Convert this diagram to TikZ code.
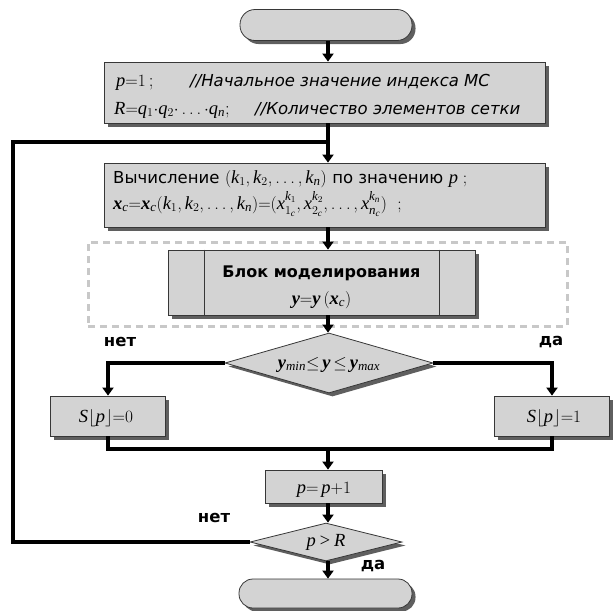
\documentclass[tikz,border=0pt]{standalone}
\usepackage{fontspec}
\newfontfamily\dvs{DejaVu Sans}
\newfontfamily\lib[NFSSFamily=libser]{Liberation Serif}
\DeclareSymbolFont{letters}{TU}{libser}{m}{it}
\DeclareSymbolFont{operators}{TU}{libser}{m}{n}
\DeclareMathAlphabet{\mathbi}{TU}{libser}{b}{it}
\mathcode`,="602C
\mathcode`.="002E
\mathchardef\ldotp="602E
\usetikzlibrary{arrows.meta,shadows,shapes.geometric}
\definecolor{boxfill}{RGB}{211,211,211}
\definecolor{bordc}{RGB}{55,55,55}
\definecolor{shadc}{RGB}{95,95,95}
\definecolor{dashc}{RGB}{200,200,200}
\newcommand\tx[1]{{\dvs\fontsize{16.5}{19}\selectfont #1}}
\newcommand\lbl[1]{{\dvs\bfseries\fontsize{16.5}{19}\selectfont #1}}
\newcommand\bl[1]{{\dvs\bfseries\fontsize{16}{19}\selectfont #1}}
\newcommand\rsup[1]{\raisebox{2pt}{$\scriptstyle #1$}}
\newcommand\lsub[1]{\raisebox{-1pt}{$\scriptstyle #1$}}
\tikzset{
  proc/.style={draw=bordc, line width=0.8pt, fill=boxfill, inner sep=0pt,
    drop shadow={shadow xshift=3.5pt, shadow yshift=-3.5pt, fill=shadc, opacity=1}},
  term/.style={proc, rounded corners=15pt},
  dec/.style={proc, shape=diamond, aspect=3.4},
  txt/.style={inner sep=0pt, font=\fontsize{18.5}{22}\selectfont},
  conn/.style={line width=3.5pt, line join=miter},
  arr/.style={conn, -{Triangle[width=11pt,length=8pt]}},
  grpbox/.style={draw=dashc, line width=3pt, dash pattern=on 7pt off 5pt, inner sep=0pt}
}
\begin{document}
\begin{tikzpicture}[x=1pt,y=-1pt]
\useasboundingbox (0,0) rectangle (614,611);
% nodes
\node[term, minimum width=172pt, minimum height=31pt] (start) at (326,25) {};
\node[proc, minimum width=441pt, minimum height=61pt] (b1) at (324.5,92.5) {};
\node[txt, anchor=base west] (b1a) at (116,86) {$p{=}1$\,;};
\node[txt, anchor=base west] (b1b) at (190,86) {\tx{\itshape //Начальное значение индекса МС}};
\node[txt, anchor=base west] (b1c) at (114,114) {$R{=}q_1{\cdot}q_2{\cdot}\,{\ldots}\,{\cdot}q_n$;};
\node[txt, anchor=base west] (b1d) at (255,114) {\tx{\itshape //Количество элементов сетки}};

\node[proc, minimum width=441pt, minimum height=64pt] (b2) at (324.5,195) {};
\node[txt, anchor=base west] (b2a) at (113,183) {\tx{Вычисление} $\bigl(k_1,k_2,\ldots,k_n\bigr)$ \tx{по значению} $p\;;$};
\node[txt, anchor=base west] (b2b) at (113,209) {$\mathbi{x}_c{=}\mathbi{x}_c(k_1,k_2,\ldots,k_n){=}(x^{\rsup{k_1}}_{\lsub{1_c}},x^{\rsup{k_2}}_{\lsub{2_c}},\ldots,x^{\rsup{k_n}}_{\lsub{n_c}})\ \;;$};

\node[grpbox, minimum width=479pt, minimum height=84pt] (grp) at (327.5,284) {};
\node[proc, minimum width=307pt, minimum height=65pt] (blk) at (321.5,282.5) {};
\draw[bordc, line width=0.8pt] ([xshift=37pt]blk.north west) -- ([xshift=37pt]blk.south west);
\draw[bordc, line width=0.8pt] ([xshift=-36pt]blk.north east) -- ([xshift=-36pt]blk.south east);
\node[txt, anchor=base] (blka) at (321.5,277) {\bl{Блок моделирования}};
\node[txt, anchor=base] (blkb) at (321.5,304) {$\mathbi{y}{=}\mathbi{y}\left(\mathbi{x}_c\right)$};

\node[dec, minimum width=208pt, minimum height=60pt] (d1) at (329,363) {};
\node[txt, anchor=base] (d1t) at (329,368) {$\mathbi{y}_{min}{\leq}\,\mathbi{y}\,{\leq}\,\mathbi{y}_{max}$};

\node[proc, minimum width=115pt, minimum height=40pt] (s0) at (108,416) {};
\node[txt, anchor=base] (s0t) at (106,422) {$S\lfloor p\rfloor{=}0$};
\node[proc, minimum width=115pt, minimum height=40pt] (s1) at (552,416) {};
\node[txt, anchor=base] (s1t) at (554,422) {$S\lfloor p\rfloor{=}1$};

\node[proc, minimum width=117pt, minimum height=33pt] (inc) at (323.5,486.5) {};
\node[txt, anchor=base] (inct) at (324,493) {$p{=}\,p{+}1$};

\node[dec, minimum width=152pt, minimum height=38pt, aspect=4] (d2) at (326,542) {};
\node[txt, anchor=base] (d2t) at (326,546) {$p{\,>\,}R$};

\node[term, minimum width=173pt, minimum height=29pt, rounded corners=14pt] (stop) at (325.5,593.5) {};

% labels
\node[inner sep=0pt] (no1) at (120,342) {\lbl{нет}};
\node[inner sep=0pt] (yes1) at (551,342) {\lbl{да}};
\node[inner sep=0pt] (no2) at (214,518) {\lbl{нет}};
\node[inner sep=0pt] (yes2) at (373,566) {\lbl{да}};

% connectors
\coordinate (ax) at (328,0);
\coordinate (j1) at (328,142);
\coordinate (lc) at (13,142);
\coordinate (m) at (328,449);
\draw[arr] (start.south -| ax) -- (b1.north -| ax);
\draw[conn] (b1.south -| ax) -- (j1);
\draw[arr] (j1) -- (b2.north -| ax);
\draw[arr] (b2.south -| ax) -- (blk.north -| ax);
\draw[arr] (blk.south -| ax) -- (d1.north -| ax);
\draw[arr] (d1.west) -| (s0.north);
\draw[arr] (d1.east) -| (s1.north);
\draw[conn] (s0.south) -- (s0.south |- m) -- (s1.south |- m) -- (s1.south);
\draw[arr] (m) -- (inc.north -| ax);
\draw[arr] (inc.south -| ax) -- (d2.north -| ax);
\draw[conn] (d2.west) -| (lc) -- (j1);
\draw[arr] (d2.south -| ax) -- (stop.north -| ax);
\end{tikzpicture}
\end{document}
